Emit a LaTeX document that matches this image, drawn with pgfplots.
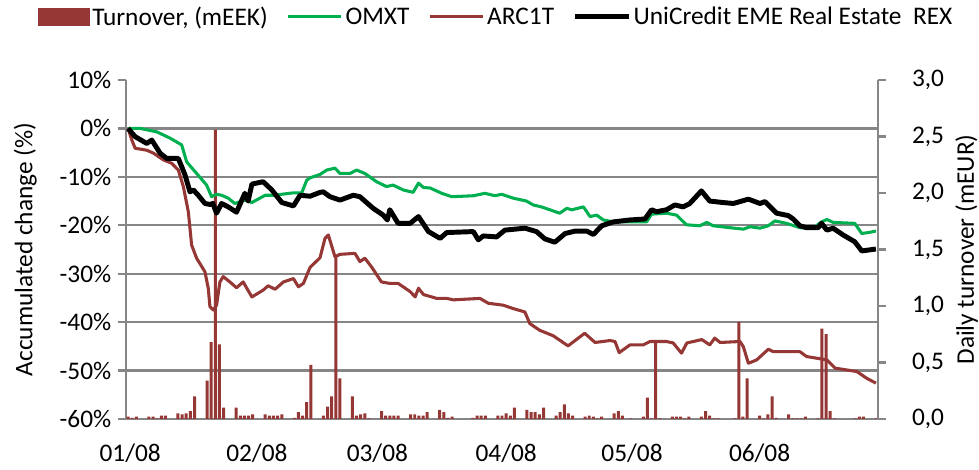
\documentclass[border=0pt]{standalone}
\usepackage{fontspec}
\setmainfont{Carlito}
\usepackage{pgfplots}
\pgfplotsset{compat=1.18}
\definecolor{barred}{RGB}{149,55,53}
\definecolor{omxgreen}{RGB}{0,176,80}
\definecolor{axgray}{RGB}{134,134,134}
\newcommand{\chartfont}{\fontsize{19}{23}\selectfont}
\begin{document}
\begin{tikzpicture}
\useasboundingbox (0,0) rectangle (734.25pt,352.5pt);
\pgfplotsset{
  base/.style={scale only axis, width=564pt, height=254.25pt,
    at={(94.5pt,38.25pt)}, anchor=south west, xmin=0.5, xmax=181.5,
    tick label style={font=\chartfont}, label style={font=\chartfont}},
}
% Axis A: left scale, grid, x labels
\begin{axis}[base, ymin=-60, ymax=10,
  axis x line*=bottom, axis y line*=left,
  axis line style={axgray, line width=1.7pt},
  xtick={1.5,32,61,92,122.3,153},
  xticklabels={01/08,02/08,03/08,04/08,05/08,06/08},
  xtick style={draw=none},
  xticklabel style={yshift=-9.5pt},
  ytick={-60,-50,-40,-30,-20,-10,0,10},
  yticklabels={-60\%,-50\%,-40\%,-30\%,-20\%,-10\%,0\%,10\%},
  ytick style={axgray, line width=1.7pt},
  tick align=outside, major tick length=6pt,
  yticklabel style={xshift=-1.5pt},
  extra y ticks={-50,-40,-30,-20,-10,0},
  extra y tick labels={},
  extra y tick style={grid=major},
  major grid style={axgray, line width=1.7pt},
  ylabel={Accumulated change (\%)},
  ylabel style={at={(axis description cs:-0.134,0.5)}, anchor=center, rotate=0},
]
\end{axis}
% Axis B: right scale, turnover bars
\begin{axis}[base, ymin=0, ymax=3,
  axis y line*=right, axis x line=none,
  axis line style={axgray, line width=1.7pt},
  ytick={0,0.5,1,1.5,2,2.5,3},
  yticklabels={{0,0},{0,5},{1,0},{1,5},{2,0},{2,5},{3,0}},
  ytick style={axgray, line width=1.7pt},
  tick align=outside, major tick length=6pt,
  yticklabel style={xshift=16pt},
  ylabel={Daily turnover (mEUR)},
  ylabel style={at={(axis description cs:1.118,0.5)}, anchor=center, rotate=0},
]
\addplot[ybar, bar width=0.72, bar shift=0pt, fill=barred, draw=none] coordinates {
(1,0.02) (2,0.01) (3,0.02) (6,0.02) (7,0.02) (8,0.005) (9,0.03) (10,0.03) (13,0.05) (14,0.04) (15,0.05) (16,0.07) (17,0.2) (20,0.34) (21,0.68) (22,2.56) (23,0.66) (24,0.1) (27,0.1) (28,0.03) (29,0.03) (30,0.03) (31,0.04) (34,0.04) (35,0.03) (36,0.03) (37,0.03) (38,0.04) (41,0.01) (42,0.06) (43,0.03) (44,0.15) (45,0.48) (48,0.03) (49,0.11) (50,0.2) (51,1.44) (52,0.36) (55,0.2) (56,0.03) (57,0.04) (58,0.05) (59,0.005) (62,0.07) (63,0.03) (64,0.03) (65,0.03) (66,0.03) (69,0.04) (70,0.04) (71,0.03) (72,0.03) (73,0.06) (76,0.08) (77,0.06) (78,0.01) (79,0.02) (84,0.01) (85,0.03) (86,0.03) (87,0.03) (90,0.03) (91,0.03) (92,0.05) (93,0.03) (94,0.1) (97,0.08) (98,0.06) (99,0.06) (100,0.04) (101,0.1) (104,0.03) (105,0.06) (106,0.13) (107,0.05) (108,0.03) (111,0.02) (112,0.03) (113,0.02) (114,0.005) (115,0.02) (118,0.05) (119,0.07) (120,0.03) (122,0.005) (125,0.02) (126,0.19) (127,0.005) (128,0.69) (129,0.005) (132,0.02) (133,0.02) (134,0.02) (135,0.005) (136,0.02) (139,0.02) (140,0.07) (141,0.03) (142,0.005) (143,0.005) (147,0.005) (148,0.86) (149,0.02) (150,0.36) (153,0.03) (154,0.005) (155,0.04) (156,0.2) (157,0.01) (160,0.04) (161,0.005) (162,0.005) (163,0.005) (164,0.02) (167,0.005) (168,0.8) (169,0.75) (170,0.07) (171,0.005) (176,0.005) (177,0.02) (178,0.02) (181,0.005)
};
\end{axis}
% Axis C: lines and legend
\begin{axis}[base, ymin=-60, ymax=10, hide axis,
  legend style={at={(0.493,1.186)}, anchor=center, draw=none, fill=none,
    font=\chartfont, legend columns=4,
    /tikz/every even column/.append style={column sep=12pt}},
  legend image code/.code={\draw[#1] (0pt,0pt) -- (40pt,0pt);},
]
\addlegendimage{legend image code/.code={\fill[barred] (0pt,-6.5pt) rectangle (38pt,6.5pt);}}
\addlegendentry{Turnover, (mEEK)}
\addplot[omxgreen, line width=2.3pt, line join=round] coordinates {
(1,0) (3.9,0) (7.9,-0.7) (11.1,-2) (13.9,-3.4) (15.1,-6.9) (17.5,-9.3) (19.9,-11.7) (21.1,-14.1) (22.3,-13.6) (23.5,-13.8) (25.1,-14.4) (26.7,-15.5) (29.1,-14.8) (30.8,-15.3) (34,-13.8) (36,-13.8) (38,-13.6) (40.8,-13.3) (42.8,-13.3) (44,-10.7) (44.8,-10.2) (47.2,-9.5) (48.8,-8.6) (50.8,-8.2) (52,-9.3) (54.4,-9.3) (56,-8.6) (58,-9.3) (60.8,-11) (63.2,-12) (64.8,-11.7) (67.2,-12.7) (69.6,-13.2) (70.9,-11.3) (72.1,-12.2) (73.7,-12.3) (76.5,-13.4) (78.9,-14.1) (84.1,-13.9) (86.9,-13.4) (89.3,-13.9) (90.9,-13.6) (93.7,-14.4) (96.9,-15) (98.5,-15.8) (100.5,-16.2) (102.5,-16.8) (104.9,-17.5) (106.6,-16.5) (107.8,-16.8) (110.6,-16.2) (112.2,-18.2) (113.8,-17.9) (115.4,-18.9) (117.8,-19.3) (125.8,-19.3) (127,-17.7) (130.6,-17.5) (133,-17.9) (135.4,-19.9) (138.6,-20.1) (140.3,-19.4) (141.8,-20.1) (145.9,-20.5) (149.1,-20.8) (150.7,-20.3) (153.1,-20.6) (155.1,-20.1) (156.7,-19.1) (159.5,-19.6) (162.7,-20.5) (165.9,-20.6) (167.9,-19.3) (169.2,-18.8) (170.7,-19.4) (175.9,-19.6) (177.6,-21.7) (179.2,-21.5) (181,-21.2)
};
\addlegendentry{OMXT}
\addplot[barred, line width=2.3pt, line join=round] coordinates {
(1,0) (1.9,-2.4) (2.7,-4.1) (5.5,-4.5) (7.1,-5.1) (9.5,-6.5) (11.5,-7.2) (13.1,-8.6) (14.3,-12) (15.5,-17.2) (16.3,-24.1) (17.5,-26.8) (19.5,-29.6) (20.3,-33) (20.7,-36.8) (21.5,-37.5) (22.3,-36.5) (23.1,-31.7) (23.9,-30.6) (25.5,-31.7) (27.1,-32.9) (28.7,-31.7) (30.8,-34.8) (33.5,-33.4) (34.7,-32.5) (36.4,-33.2) (38.4,-31.7) (40.8,-31) (42,-32.7) (43.2,-32) (44.8,-28.7) (47.2,-26.7) (48.4,-22.7) (49.2,-22) (50.8,-26.5) (52,-26) (55.6,-25.8) (56.8,-27.5) (58,-26.8) (59.6,-28.6) (62,-31.7) (64,-32) (66,-32) (68.9,-33.7) (70.1,-34.8) (70.9,-33) (72.1,-34.3) (75.3,-35.1) (77.7,-35.1) (79.3,-35.4) (85.7,-35.1) (87.7,-36.1) (91.3,-36.5) (93.7,-37.2) (96.5,-37.9) (97.7,-40.3) (100.1,-41.7) (103.3,-42.8) (106.9,-44.9) (110.9,-42.3) (113.4,-44.2) (117,-43.8) (118.2,-44) (119.2,-46.3) (121.8,-44.7) (125,-44.7) (126.6,-44) (130.6,-44) (132.2,-44.3) (134.2,-46.4) (135.5,-44.3) (139.1,-43.6) (141,-44.7) (142.2,-43.3) (143.5,-44.2) (148.3,-44) (149.1,-45.1) (150.3,-48.5) (152.3,-47.8) (155.1,-45.6) (156.3,-46.1) (162.7,-46.1) (164.3,-47.1) (169.2,-47.8) (171.2,-49.5) (176.4,-50.2) (178.8,-51.6) (181,-52.6)
};
\addlegendentry{ARC1T}
\addplot[black, line width=3.7pt, line join=round] coordinates {
(1,0) (2.7,-1.7) (5.5,-3.1) (6.7,-2.4) (8.7,-5.1) (10.3,-6.2) (13.1,-6.2) (14.7,-9.6) (15.9,-13.1) (16.7,-12.7) (17.9,-13.8) (19.5,-15.5) (20.7,-15.7) (21.4,-15.5) (22.3,-17.5) (23.5,-15.5) (25.1,-16.2) (27.1,-17.3) (29.1,-13.4) (29.9,-15) (30.8,-11.5) (33.5,-11) (35.6,-12.7) (38,-15.3) (40.8,-16) (42.4,-13.8) (44.8,-14) (47.2,-13.2) (48,-13.1) (49.6,-14.1) (52,-14.8) (55.2,-13.8) (56.8,-14.1) (60,-16.5) (62.4,-17.9) (63.4,-18.9) (64,-16.8) (66,-19.6) (68.9,-19.6) (70.9,-18.2) (73.3,-21.3) (76.1,-22.7) (77.7,-21.5) (84.1,-21.3) (85.3,-23) (86.5,-22.2) (89.7,-22.4) (91.7,-21) (96.5,-20.6) (99.3,-21.3) (101.3,-22.8) (103.7,-23.5) (106.2,-21.7) (108.6,-21.2) (111.4,-21.2) (113,-21.9) (115,-20.1) (117.8,-19.3) (121.8,-18.9) (125.4,-18.7) (127,-16.8) (128.2,-17.2) (130.6,-16.8) (132.6,-15.8) (134.6,-16.2) (136.2,-15.5) (139,-12.9) (141,-15) (144.2,-15.3) (146.7,-15.5) (150.3,-14.6) (153.1,-15.5) (154.3,-15.1) (157.1,-17.5) (159.9,-18) (161.1,-18.7) (162.7,-20.1) (164.3,-20.5) (167.1,-20.5) (167.9,-19.6) (169.2,-21) (170.7,-20.6) (173.1,-22) (175.9,-23.4) (177.6,-25.3) (181,-24.9)
};
\addlegendentry{UniCredit EME Real Estate\ \ REX}
\end{axis}
\end{tikzpicture}
\end{document}
